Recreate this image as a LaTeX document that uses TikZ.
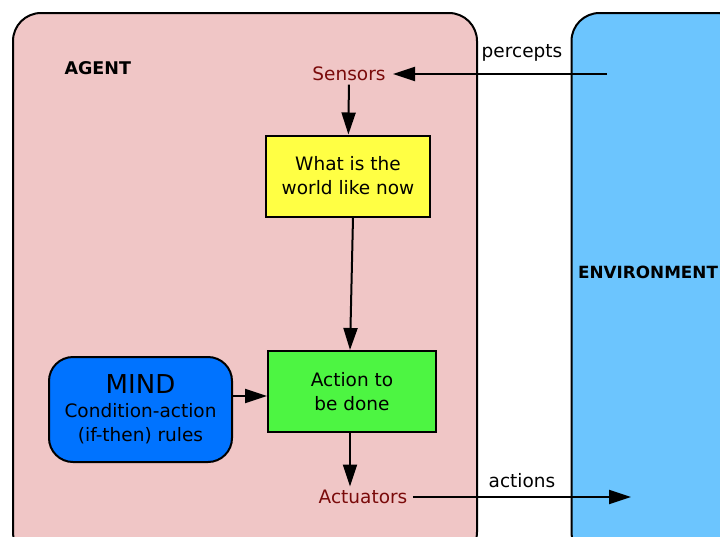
\documentclass[tikz,border=0pt]{standalone}
\usepackage{fontspec}
\setmainfont{DejaVu Sans}
\usepackage{xcolor}
\usetikzlibrary{arrows.meta, positioning, shapes, calc}

\definecolor{agentpink}{HTML}{F0C6C6}
\definecolor{envblue}{HTML}{6CC5FE}
\definecolor{worldyellow}{HTML}{FFFF44}
\definecolor{actgreen}{HTML}{4DF542}
\definecolor{mindblue}{HTML}{0073FF}
\definecolor{portred}{HTML}{7A0A0A}

\begin{document}
\begin{tikzpicture}[
    x=1pt, y=-1pt,
    node distance=1.5cm,
    frame/.style={rectangle, draw, line width=2pt, rounded corners=28pt},
    block/.style={rectangle, draw, line width=2pt, text centered, align=center, font=\fontsize{18.5}{24}\selectfont},
    port/.style={text=portred, font=\fontsize{18.5}{20}\selectfont},
    title/.style={font=\bfseries\fontsize{17.5}{20}\selectfont},
    arrow/.style={line width=2pt, -{Triangle[length=22pt, width=14pt]}},
    label/.style={font=\fontsize{18.5}{20}\selectfont}
]
\useasboundingbox (0,0) rectangle (720,536);
\clip (0,0) rectangle (720,536);

% 外框
\node[frame, fill=agentpink, minimum width=464pt, minimum height=547pt] (agent) at (245,286.5) {};
\node[frame, fill=envblue, minimum width=173pt, minimum height=547pt] (env) at (658,286.5) {};
\node[title, anchor=west] (agenttitle) at (61,68) {AGENT};
\node[title, anchor=west, inner sep=1pt, font=\bfseries\fontsize{16.8}{20}\selectfont] (envtitle) at (577,272) {ENVIRONMENT};

% 内部模块
\node[port] (sensors) at (349,74) {Sensors};
\node[block, fill=worldyellow, minimum width=164pt, minimum height=81pt] (world) at (348,176) {What is the\\world like now};
\node[block, fill=actgreen, minimum width=168pt, minimum height=81pt] (action) at (352,391.5) {Action to\\be done};
\node[block, fill=mindblue, rounded corners=24pt, minimum width=183pt, minimum height=105pt] (mind) at (140.5,409.5)
    {{\fontsize{26}{26}\selectfont MIND}\\Condition-action\\(if-then) rules};
\node[port] (actuators) at (363,497) {Actuators};

% 连接线
\coordinate (perceptsrc) at (607,74);
\coordinate (actiondst) at (631,497);
\draw[arrow] (sensors) -- (world);
\draw[arrow] (world.south -| 353,0) -- (action.north -| 350,0);
\draw[arrow] (action.south -| 350,0) -- (actuators.north -| 350,0);
\draw[arrow] (mind.east |- 0,396) -- (action.west |- 0,396);
\draw[arrow] (perceptsrc) -- ([xshift=4pt]sensors.east);
\draw[arrow] ([xshift=2pt]actuators.east |- actiondst) -- (actiondst);

% 标签
\node[label] (percepts) at (522,53) {percepts};
\node[label] (actions) at (522,481) {actions};
\end{tikzpicture}
\end{document}
